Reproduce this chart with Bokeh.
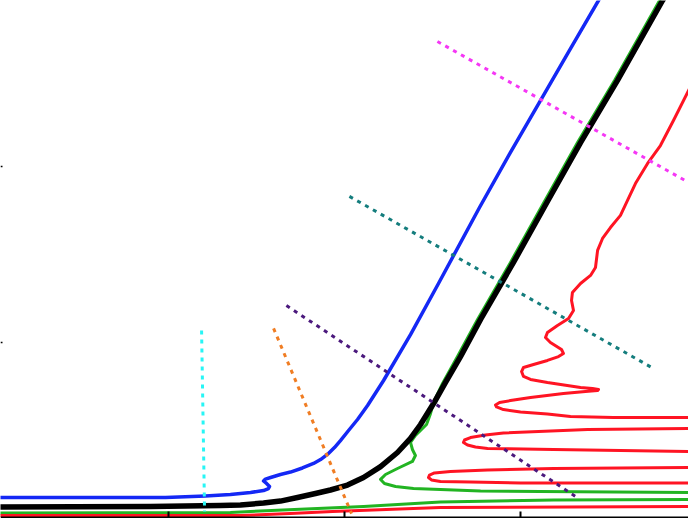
from bokeh.plotting import figure
from bokeh.models import Range1d, LinearAxis, FixedTicker, CustomJSTickFormatter
from bokeh.embed import file_html
from bokeh.resources import INLINE

# ---- data ----
blue_x = [-0.011, 0.983, 1.210, 1.352, 1.466, 1.540, 1.568, 1.574, 1.557, 1.540, 1.551, 1.580,
          1.636, 1.693, 1.761, 1.824, 1.864, 1.903, 1.943, 1.977, 2.023, 2.074, 2.131, 2.222,
          2.375, 2.534, 2.767, 2.943, 3.114, 3.284, 3.443, 3.477]
blue_y = [0.119, 0.119, 0.128, 0.136, 0.148, 0.159, 0.170, 0.182, 0.199, 0.213, 0.224, 0.233,
          0.250, 0.264, 0.287, 0.3125, 0.335, 0.364, 0.403, 0.443, 0.500, 0.5625, 0.642, 0.784,
          1.045, 1.335, 1.767, 2.080, 2.375, 2.670, 2.943, 3.000]

black_x = [-0.011, 0.898, 1.295, 1.409, 1.540, 1.636, 1.733, 1.835, 1.920, 2.017, 2.108, 2.205,
           2.301, 2.375, 2.432, 2.506, 2.574, 2.659, 2.773, 2.960, 3.153, 3.341, 3.551, 3.807,
           3.841]
black_y = [0.065, 0.068, 0.074, 0.077, 0.088, 0.099, 0.119, 0.142, 0.162, 0.190, 0.233, 0.295,
           0.375, 0.455, 0.534, 0.653, 0.773, 0.920, 1.131, 1.455, 1.801, 2.136, 2.489, 2.943,
           3.000]

green_x = [-0.011, 1.352, 1.466, 2.108, 2.545, 3.188, 3.955, 4.193, 4.193, 3.955, 3.114, 2.773,
           2.545, 2.392, 2.290, 2.227, 2.205, 2.233, 2.301, 2.386, 2.403, 2.386, 2.375, 2.403,
           2.466, 2.489, 2.506, 2.557, 2.642, 2.756, 2.943, 3.136, 3.324, 3.534, 3.790, 3.824]
green_y = [0.031, 0.034, 0.040, 0.068, 0.094, 0.105, 0.108, 0.119, 0.148, 0.148, 0.153, 0.156,
           0.165, 0.170, 0.182, 0.199, 0.222, 0.250, 0.284, 0.324, 0.358, 0.392, 0.432, 0.472,
           0.534, 0.597, 0.659, 0.767, 0.920, 1.131, 1.455, 1.801, 2.136, 2.489, 2.943, 3.000]

red_x = [-0.011, 1.409, 1.693, 1.932, 2.545, 3.955, 4.193, 4.193, 3.955, 3.000, 2.716, 2.545,
         2.494, 2.477, 2.483, 2.511, 2.602, 2.813, 3.188, 3.955, 4.193, 4.193, 3.955, 3.188,
         2.813, 2.744, 2.699, 2.676, 2.682, 2.716, 2.801, 2.903, 3.381, 3.955, 4.193, 4.193,
         3.955, 3.528, 3.284, 3.153, 3.000, 2.903, 2.864, 2.858, 2.881, 2.943, 3.057, 3.244,
         3.369, 3.438, 3.443, 3.409, 3.341, 3.153, 3.057, 3.017, 3.006, 3.017, 3.074, 3.153,
         3.216, 3.244, 3.233, 3.170, 3.142, 3.153, 3.210, 3.273, 3.301, 3.290, 3.295, 3.341,
         3.398, 3.426, 3.438, 3.466, 3.511, 3.568, 3.608, 3.653, 3.722, 3.795, 3.869, 3.955,
         4.011]
red_y = [0.017, 0.017, 0.028, 0.040, 0.0625, 0.068, 0.085, 0.188, 0.202, 0.202, 0.207, 0.210,
         0.219, 0.233, 0.247, 0.259, 0.267, 0.276, 0.284, 0.290, 0.301, 0.369, 0.381, 0.392,
         0.398, 0.406, 0.418, 0.432, 0.446, 0.460, 0.474, 0.486, 0.506, 0.511, 0.523, 0.5625,
         0.574, 0.574, 0.580, 0.594, 0.605, 0.619, 0.634, 0.645, 0.659, 0.670, 0.6875, 0.710,
         0.722, 0.727, 0.733, 0.739, 0.744, 0.773, 0.790, 0.807, 0.835, 0.858, 0.875, 0.898,
         0.920, 0.9375, 0.960, 1.000, 1.028, 1.057, 1.097, 1.136, 1.182, 1.239, 1.284, 1.335,
         1.381, 1.426, 1.523, 1.591, 1.653, 1.722, 1.807, 1.903, 2.017, 2.119, 2.261, 2.432,
         2.545]

cyan_x = [1.188, 1.205]
cyan_y = [1.068, 0.040]
orange_x = [1.597, 2.040]
orange_y = [1.080, 0.028]
purple_x = [1.670, 3.313]
purple_y = [1.210, 0.125]
teal_x = [2.028, 3.756]
teal_y = [1.830, 0.852]
magenta_x = [2.528, 3.966]
magenta_y = [2.710, 1.903]

x_ticks = [1, 2, 3]
y_ticks = [1, 2]

# ---- figure ----
x0, x1 = 0.0455, 3.9545
y0, y1 = 0.0, 2.943
p = figure(width=688, height=518,
           x_range=Range1d(x0, x1), y_range=Range1d(y0, y1),
           output_backend="svg", toolbar_location=None,
           x_axis_location=None, y_axis_location=None, min_border=0)
p.outline_line_color = None
p.background_fill_color = "white"
p.border_fill_color = "white"
for g in p.grid:
    g.visible = False

blank = CustomJSTickFormatter(code="return '';")

xaxis = LinearAxis(ticker=FixedTicker(ticks=x_ticks), formatter=blank, fixed_location=0.006)
xaxis.axis_line_width = 2
xaxis.axis_line_color = "black"
xaxis.major_tick_in = 6
xaxis.major_tick_out = 0
xaxis.major_tick_line_width = 2
xaxis.minor_tick_line_color = None
xaxis.minor_tick_in = 0
xaxis.minor_tick_out = 0
xaxis.major_label_standoff = 0
p.add_layout(xaxis, "below")

yaxis = LinearAxis(ticker=FixedTicker(ticks=y_ticks), formatter=blank, fixed_location=x0)
yaxis.axis_line_color = None
yaxis.major_tick_in = 2
yaxis.major_tick_out = 0
yaxis.major_tick_line_width = 1.5
yaxis.minor_tick_line_color = None
yaxis.minor_tick_in = 0
yaxis.minor_tick_out = 0
yaxis.major_label_standoff = 0
p.add_layout(yaxis, "left")

p.line(blue_x, blue_y, line_color="#1428f5", line_width=3.5, line_join="round")
p.line(green_x, green_y, line_color="#22b422", line_width=3, line_join="round")
p.line(red_x, red_y, line_color="#ff1423", line_width=3, line_join="round")
p.line(black_x, black_y, line_color="black", line_width=5.5, line_join="round")

dash = "4 5"
p.line(cyan_x, cyan_y, line_color="#28f5f5", line_width=3, line_dash=dash)
p.line(orange_x, orange_y, line_color="#f07d23", line_width=3, line_dash=dash)
p.line(purple_x, purple_y, line_color="#4b197d", line_width=3, line_dash=dash)
p.line(teal_x, teal_y, line_color="#147d7d", line_width=3, line_dash=dash)
p.line(magenta_x, magenta_y, line_color="#f537f5", line_width=3, line_dash=dash)

open("out.html", "w").write(file_html(p, INLINE))
